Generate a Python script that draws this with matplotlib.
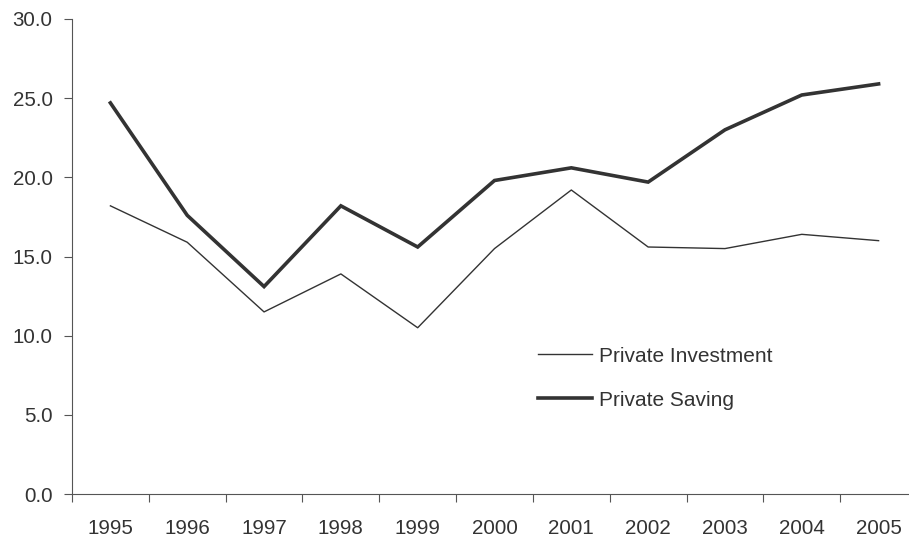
import matplotlib
matplotlib.use("Agg")
import matplotlib.pyplot as plt
import numpy as np
from matplotlib.ticker import FixedLocator, FormatStrFormatter

years = ["1995", "1996", "1997", "1998", "1999", "2000", "2001", "2002", "2003", "2004", "2005"]
private_investment = [18.2, 15.9, 11.5, 13.9, 10.5, 15.5, 19.2, 15.6, 15.5, 16.4, 16.0]
private_saving = [24.7, 17.6, 13.1, 18.2, 15.6, 19.8, 20.6, 19.7, 23.0, 25.2, 25.9]

plt.rcParams['font.family'] = ['Liberation Sans', 'DejaVu Sans']

fig = plt.figure(figsize=(9.09, 5.39), dpi=100)
ax = fig.add_axes([72/909, 45/539, (917-72)/909, 475/539])

x = np.arange(len(years))
ax.plot(x, private_investment, color="#333333", lw=1.0, label="Private Investment")
ax.plot(x, private_saving, color="#333333", lw=2.6, label="Private Saving", solid_joinstyle="miter")

ax.set_xlim(-0.5, len(years) - 0.5)
ax.set_ylim(0, 30)
ax.set_yticks(np.arange(0, 31, 5))
ax.yaxis.set_major_formatter(FormatStrFormatter("%.1f"))
ax.set_xticks(x)
ax.set_xticklabels(years)
ax.xaxis.set_minor_locator(FixedLocator(np.arange(-0.5, len(years), 1.0)))
ax.tick_params(axis="x", which="major", length=0, pad=18, labelsize=14.8, labelcolor="#333333")
ax.tick_params(axis="x", which="minor", length=6, direction="out", color="#555555", width=0.8)
ax.tick_params(axis="y", length=6, direction="out", color="#555555", width=0.8, pad=8,
               labelsize=14.8, labelcolor="#333333")

for s in ["top", "right"]:
    ax.spines[s].set_visible(False)
for s in ["left", "bottom"]:
    ax.spines[s].set_color("#555555")
    ax.spines[s].set_linewidth(0.8)

leg = ax.legend(loc="upper left", bbox_to_anchor=(0.532, 0.345), frameon=False,
                handlelength=2.6, handletextpad=0.3, labelspacing=1.2, fontsize=15,
                borderpad=0.3)
for t in leg.get_texts():
    t.set_color("#333333")

fig.savefig("out.png", dpi=100)
